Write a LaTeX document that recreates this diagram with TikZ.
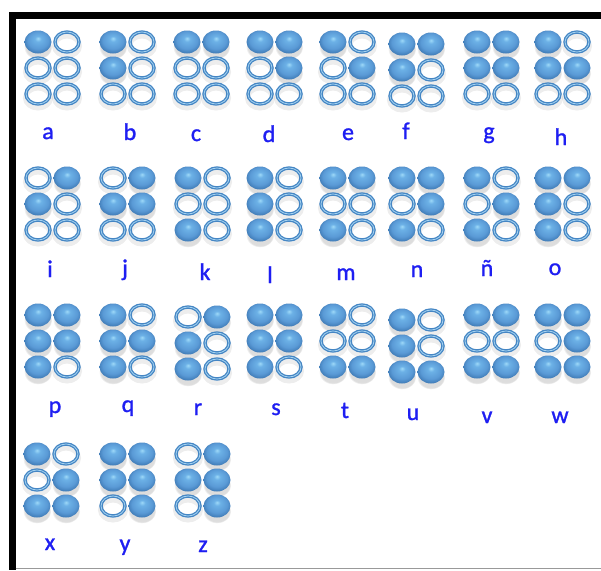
\documentclass[tikz,border=0pt]{standalone}
\usepackage{fontspec}
\setmainfont{Carlito}
\newfontfamily\lblfont[FakeBold=1.2]{Carlito}
\usetikzlibrary{shapes.geometric,shadows}
\definecolor{beadhi}{HTML}{9ED9F8}
\definecolor{beadmid}{HTML}{6CB1E6}
\definecolor{beadbody}{HTML}{5A9AD6}
\definecolor{beaddark}{HTML}{3D78B3}
\definecolor{ringblue}{HTML}{4586C4}
\definecolor{ringlight}{HTML}{A3D2F1}
\definecolor{txtblue}{HTML}{1E1EF2}
\pgfdeclareradialshading{bead}{\pgfpoint{0bp}{8bp}}{%
  color(0bp)=(beadhi); color(6bp)=(beadmid); color(19bp)=(beadbody);
  color(28bp)=(beaddark); color(40bp)=(beaddark)}
\tikzset{
  beaddot/.style={ellipse, minimum width=27pt, minimum height=23pt, inner sep=0pt,
    shading=bead, circular drop shadow={shadow xshift=0pt, shadow yshift=-5pt,
    shadow scale=1.05, opacity=0.22, fill=black!60}},
  ringdot/.style={ellipse, minimum width=24pt, minimum height=20pt, inner sep=0pt,
    draw=ringblue, line width=1.3pt, double=ringlight, double distance=0.8pt},
  ringshade/.style={ellipse, minimum width=25pt, minimum height=20pt, inner sep=0pt,
    draw=black, draw opacity=0.07, line width=5pt},
  letter/.style={anchor=base, text=txtblue, inner sep=0pt,
    font=\lblfont\fontsize{24}{28}\selectfont},
}
\newcommand\braillecell[4]{%
  \foreach \v [count=\i from 0] in {#4} {
    \pgfmathsetmacro\cx{#2 + 29*mod(\i,2)}
    \pgfmathsetmacro\cy{#3 + 26*int(\i/2)}
    \ifnum\v=1
      \node[beaddot] (#1-\i) at (\cx,\cy) {};
    \else
      \node[ringshade] (#1-s\i) at (\cx,\cy+4) {};
      \node[ringdot] (#1-\i) at (\cx,\cy) {};
    \fi
  }%
}
\begin{document}
\begin{tikzpicture}[x=1pt,y=-1pt]
\useasboundingbox (0,0) rectangle (601,570);
\fill[white] (0,0) rectangle (601,570);
% frame
\fill[black] (8.5,11.5) rectangle (601,18.5);
\fill[black] (8.5,11.5) rectangle (15.5,570);
\draw[black!40, line width=1pt] (15.5,568.5) -- (601,568.5);
% row 1
\braillecell{a}{38}{42}{1,0,0,0,0,0}
\braillecell{b}{113}{42}{1,0,1,0,0,0}
\braillecell{c}{187}{42}{1,1,0,0,0,0}
\braillecell{d}{260}{42}{1,1,0,1,0,0}
\braillecell{e}{333}{42}{1,0,0,1,0,0}
\braillecell{f}{402}{44}{1,1,1,0,0,0}
\braillecell{g}{477}{42}{1,1,1,1,0,0}
\braillecell{h}{548}{42}{1,0,1,1,0,0}
% row 2
\braillecell{i}{38}{178}{0,1,1,0,0,0}
\braillecell{j}{113}{178}{0,1,1,1,0,0}
\braillecell{k}{188}{178}{1,0,0,0,1,0}
\braillecell{l}{260}{178}{1,0,1,0,1,0}
\braillecell{m}{333}{178}{1,1,0,0,1,0}
\braillecell{n}{402}{178}{1,1,0,1,1,0}
\braillecell{nn}{477}{178}{1,0,0,1,1,0}
\braillecell{o}{548}{178}{1,1,1,0,1,0}
% row 3
\braillecell{p}{38}{315}{1,1,1,1,1,0}
\braillecell{q}{113}{315}{1,0,1,1,1,0}
\braillecell{r}{188}{317}{0,1,1,0,1,0}
\braillecell{s}{260}{315}{1,1,1,1,1,0}
\braillecell{t}{333}{315}{1,0,0,0,1,1}
\braillecell{u}{402}{320}{1,0,1,0,1,1}
\braillecell{v}{477}{315}{1,1,0,0,1,1}
\braillecell{w}{548}{315}{1,1,0,1,1,1}
% row 4
\braillecell{x}{37}{454}{1,0,0,1,1,1}
\braillecell{y}{113}{454}{1,1,1,1,0,1}
\braillecell{z}{188}{454}{0,1,1,1,0,1}
% labels
\node[letter] (la) at (48,139) {a};
\node[letter] (lb) at (130,140) {b};
\node[letter] (lc) at (196,141) {c};
\node[letter] (ld) at (269,142) {d};
\node[letter] (le) at (348,140) {e};
\node[letter] (lf) at (406,139) {f};
\node[letter] (lg) at (489,139) {g};
\node[letter] (lh) at (561,145) {h};
\node[letter] (li) at (50,277) {i};
\node[letter] (lj) at (125,276) {j};
\node[letter] (lk) at (205,280) {k};
\node[letter] (ll) at (270,283) {l};
\node[letter] (lm) at (346,280) {m};
\node[letter] (ln) at (417,277) {n};
\node[letter] (lnn) at (487,276) {ñ};
\node[letter] (lo) at (555,275) {o};
\node[letter] (lp) at (55,413) {p};
\node[letter] (lq) at (128,412) {q};
\node[letter] (lr) at (198,415) {r};
\node[letter] (ls) at (276,415) {s};
\node[letter] (lt) at (345,418) {t};
\node[letter] (lu) at (413,420) {u};
\node[letter] (lv) at (487,423) {v};
\node[letter] (lw) at (560,423) {w};
\node[letter] (lx) at (50,550) {x};
\node[letter] (ly) at (125,551) {y};
\node[letter] (lz) at (203,552) {z};
\end{tikzpicture}
\end{document}
